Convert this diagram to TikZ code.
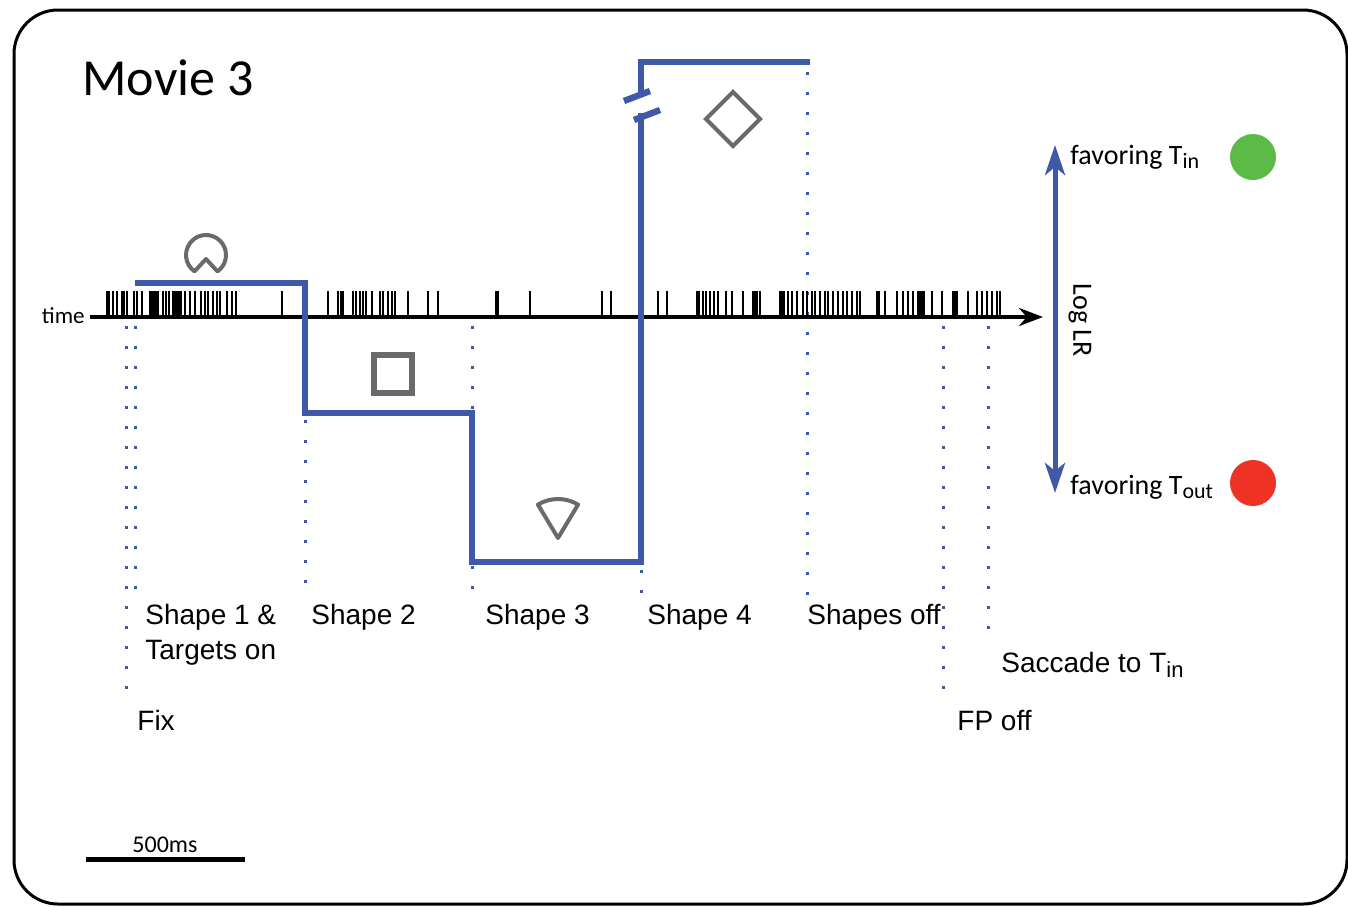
\documentclass[tikz,border=0pt]{standalone}
\usepackage{fontspec}
\setmainfont{Liberation Sans}
\newfontfamily\sidefont{Carlito}
\usetikzlibrary{arrows.meta,calc}

\definecolor{trblue}{HTML}{3F58A8}
\definecolor{icongray}{HTML}{6A6A6A}
\definecolor{tingreen}{HTML}{5CBB47}
\definecolor{toutred}{HTML}{EE3325}

\newcommand{\lowsub}[1]{\raisebox{-0.35ex}{\fontsize{11}{12}\selectfont #1}}

\begin{document}
\begin{tikzpicture}[x=0.5pt,y=-0.5pt,>={Stealth[length=12pt,width=9pt]},
  trace/.style={draw=trblue, line width=2.8pt},
  guide/.style={draw=trblue, line width=1.5pt, dash pattern=on 1.5pt off 8.5pt},
  spike/.style={line width=1.4pt},
  icon/.style={draw=icongray, line width=2pt, line join=round},
  lbl/.style={font=\fontsize{14}{17}\selectfont, anchor=base west, inner sep=0pt},
  sidelbl/.style={font=\sidefont\fontsize{14}{17}\selectfont, anchor=base west, inner sep=0pt}]
  \useasboundingbox (0,0) rectangle (1348,906);

  % frame and title
  \draw[line width=1.5pt, rounded corners=22pt] (14,10) rectangle (1347,904);
  \node (title) [anchor=base west, inner sep=0pt, font=\sidefont\fontsize{26}{30}\selectfont] at (82,95) {Movie 3};

  % event markers
  \foreach \x/\ya/\yb in {126/326/705, 135/326/592, 305/420/595, 472/326/595,
                          641/570/595, 807/72/600, 943/326/705, 988/326/640}
    \draw[guide] (\x,\ya) -- (\x,\yb);

  % spike raster
  \foreach \s in {107,109,113,117,122,124,127,134,137,142,150,152,154,156,158,163,166,169,
                  173,175,177,179,181,185,190,195,201,205,208,213,217,220,227,232,236,282,
                  328,338,341,343,353,356,360,363,366,372,380,383,388,392,395,408,428,438,
                  496,498,530,602,611,
                  658,667,697,699,703,706,710,714,718,726,732,743,753,755,757,760,780,782,
                  784,788,792,797,803,807,812,815,820,825,828,833,838,843,847,852,857,860,
                  877,879,885,897,903,908,913,918,920,922,924,932,942,953,955,957,968,977,
                  982,987,992,997,1000}
    \draw[spike] (\s,291) -- (\s,317);

  % time axis
  \coordinate (t0) at (90,317);
  \coordinate (t1) at (1043,317);
  \draw[->, line width=2pt] (t0) -- (t1);
  \node (time) [anchor=base east, inner sep=0pt, font=\sidefont\fontsize{11.5}{13}\selectfont] at (85,323) {time};

  % log LR trace
  \draw[trace, line join=miter] (135,283) -- (305,283) -- (305,413) -- (472,413)
    -- (472,562) -- (641,562) -- (641,113);
  \draw[trace, line join=miter] (641,95) -- (641,62) -- (810,62);
  \draw[trace, line width=3.2pt] (624,101) -- (650,91);
  \draw[trace, line width=3.2pt] (634,120) -- (660,110);

  % shapes
  \coordinate (pac) at (206,255);
  \coordinate (pacv) at (206,259);
  \draw[icon] ($(pac)+(-55:10pt)$) arc[start angle=-55, end angle=235, radius=10pt] -- (pacv) -- cycle;
  \draw[icon, line width=3pt, line join=miter] (374,355) rectangle (412,393);
  \coordinate (fan) at (558,538);
  \draw[icon] (fan) -- ++(59:19.5pt) arc[start angle=59, end angle=121, radius=19.5pt] -- cycle;
  \draw[icon, line join=miter] (733,92) -- (760,119) -- (733,146) -- (706,119) -- cycle;

  % labels
  \node (lshape1) [lbl] at (145,624) {Shape 1 \&};
  \node (ltargets) [lbl] at (145,659) {Targets on};
  \node (lshape2) [lbl] at (311,624) {Shape 2};
  \node (lshape3) [lbl] at (485,624) {Shape 3};
  \node (lshape4) [lbl] at (647,624) {Shape 4};
  \node (loff) [lbl] at (807,624) {Shapes off};
  \node (lsacc) [lbl] at (1001,672) {Saccade to T\lowsub{in}};
  \node (lfix) [lbl] at (137,730) {Fix};
  \node (lfp) [lbl] at (957,730) {FP off};

  % decision axis
  \coordinate (lrtop) at (1055,145);
  \coordinate (lrbot) at (1055,493);
  \draw[{Stealth[length=15pt,width=10pt,inset=4pt]}-{Stealth[length=15pt,width=10pt,inset=4pt]},
        draw=trblue, fill=trblue, line width=2.5pt] (lrtop) -- (lrbot);
  \node (loglr) [rotate=-90, font=\sidefont\fontsize{14}{17}\selectfont] at (1080,320) {Log LR};
  \node (ftin) [sidelbl] at (1070,164) {favoring T\lowsub{in}};
  \node (ftout) [sidelbl] at (1070,494) {favoring T\lowsub{out}};
  \node (gdot) [circle, fill=tingreen, minimum size=23pt, inner sep=0pt] at (1253,157) {};
  \node (rdot) [circle, fill=toutred, minimum size=23pt, inner sep=0pt] at (1253,483) {};

  % scale bar
  \coordinate (sb0) at (86,859);
  \coordinate (sb1) at (245,859);
  \draw[line width=2.5pt] (sb0) -- (sb1);
  \node (lscale) [anchor=base, inner sep=0pt, font=\sidefont\fontsize{12}{14}\selectfont] at (165,852) {500ms};
\end{tikzpicture}
\end{document}
